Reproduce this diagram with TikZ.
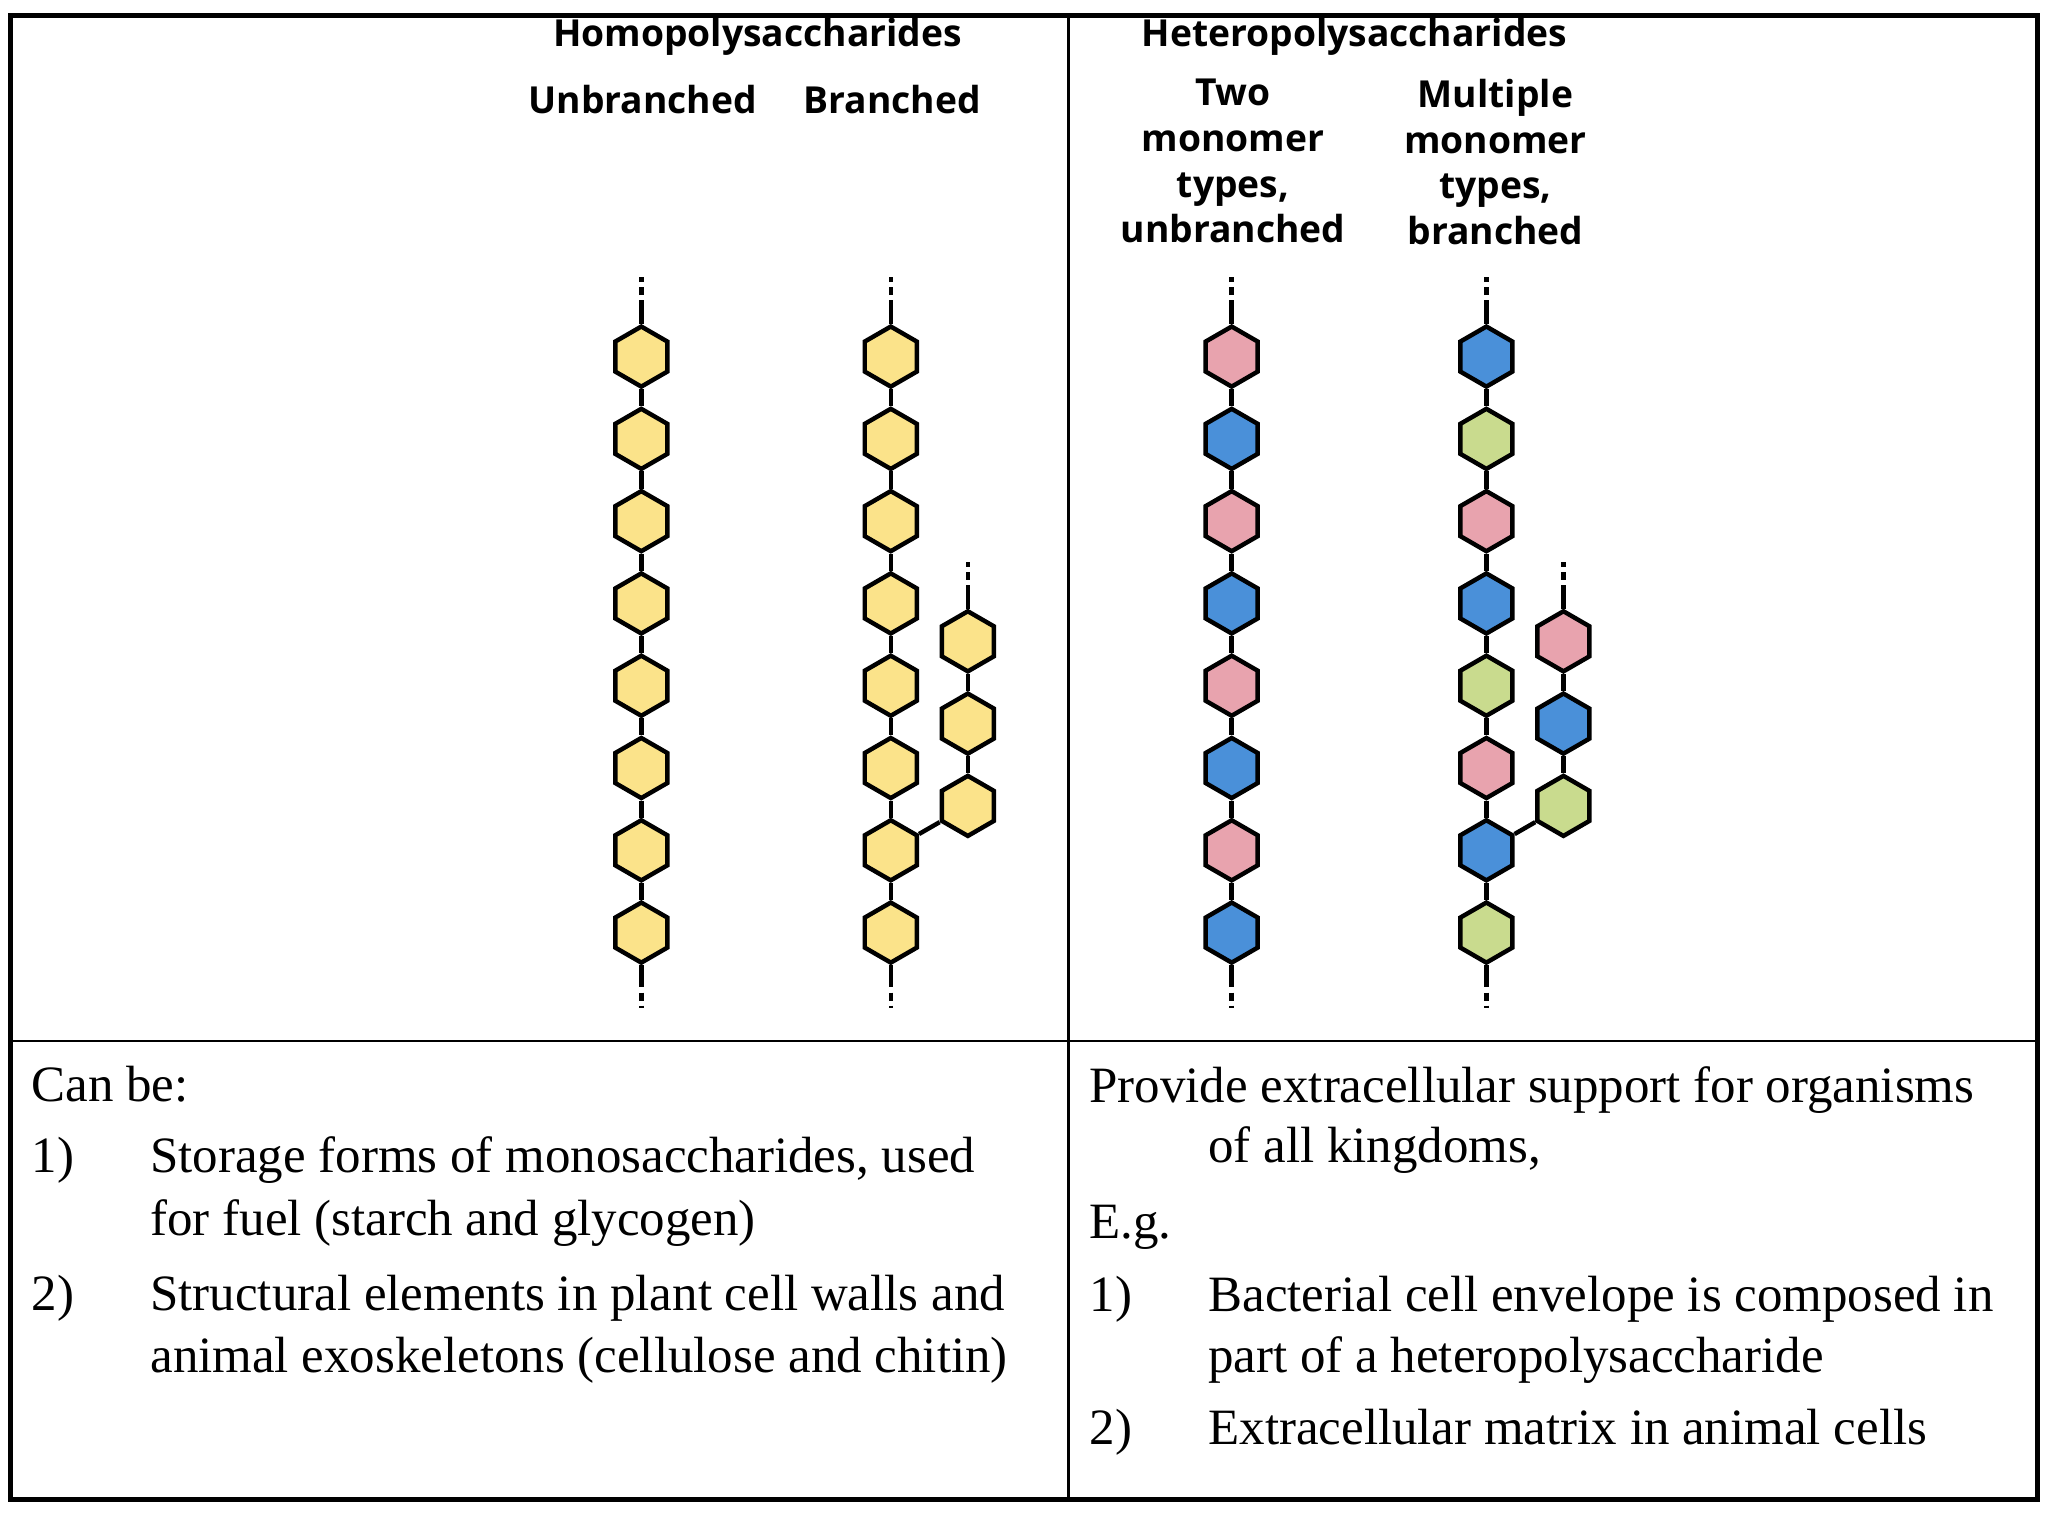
\documentclass[tikz,border=0pt]{standalone}
\usepackage{fontspec}
\setmainfont{Liberation Serif}
\newfontfamily\hfont{Open Sans}
\usetikzlibrary{shapes.geometric}
\definecolor{cY}{HTML}{FBE38A}
\definecolor{cP}{HTML}{E8A3AE}
\definecolor{cB}{HTML}{4A90D9}
\definecolor{cG}{HTML}{C9DB8E}
\tikzset{hex/.style={regular polygon,regular polygon sides=6,shape border rotate=30,draw=black,line width=3.4pt,minimum size=46pt,inner sep=0pt},
link/.style={line width=3.4pt},
stub/.style={line width=3.4pt,dash pattern=on 6pt off 4pt},
hd/.style={font=\hfont\bfseries\fontsize{28.5}{35}\selectfont,align=center},
bt/.style={font=\fontsize{39}{47}\selectfont,anchor=base west,inner sep=0pt}}
\begin{document}
\begin{tikzpicture}[x=1pt,y=-1pt]
\useasboundingbox (0,0) rectangle (1568,1176);
\draw[line width=3.5pt] (8,12) rectangle (1560,1148);
\draw[line width=2pt] (818,12) -- (818,1148) (8,797) -- (1560,797);
% headings
\node[hd] (h1) at (580,28) {Homopolysaccharides};
\node[hd] (h2) at (1037,28) {Heteropolysaccharides};
\node[hd] (u1) at (492,76) {Unbranched};
\node[hd] (b1) at (683,76) {Branched};
\node[hd,anchor=north] (t1) at (944,57) {Two\\monomer\\types,\\unbranched};
\node[hd,anchor=north] (t2) at (1145,57) {Multiple\\monomer\\types,\\branched};
% chains
\newcommand\chain[3]{% name x colors
  \foreach \c [count=\i] in {#3} {\node[hex,fill=\c] (#1\i) at (#2,{273+63*(\i-1)}) {};}
  \foreach \i [evaluate=\i as \j using int(\i+1)] in {1,...,7} {\draw[link] (#1\i) -- (#1\j);}
  \coordinate (#1t) at (#2,212); \coordinate (#1b) at (#2,772);
  \coordinate (#1ta) at (#2,236); \coordinate (#1ba) at (#2,750);
  \draw[link] (#11.north) -- (#1ta); \draw[stub] (#1ta) -- (#1t);
  \draw[link] (#18.south) -- (#1ba); \draw[stub] (#1ba) -- (#1b);}
\newcommand\branch[5]{% name x c1 c2 c3
  \node[hex,fill=#3] (#11) at (#2,491) {};
  \node[hex,fill=#4] (#12) at (#2,554) {};
  \node[hex,fill=#5] (#13) at (#2,617) {};
  \draw[link] (#11) -- (#12) (#12) -- (#13);
  \coordinate (#1t) at (#2,430); \coordinate (#1ta) at (#2,454);
  \draw[link] (#11.north) -- (#1ta); \draw[stub] (#1ta) -- (#1t);}
\chain{A}{491}{cY,cY,cY,cY,cY,cY,cY,cY}
\chain{B}{682}{cY,cY,cY,cY,cY,cY,cY,cY}
\branch{Bb}{741}{cY}{cY}{cY}
\draw[link] (B7) -- (Bb3);
\chain{C}{943}{cP,cB,cP,cB,cP,cB,cP,cB}
\chain{D}{1138}{cB,cG,cP,cB,cG,cP,cB,cG}
\branch{Db}{1197}{cP}{cB}{cG}
\draw[link] (D7) -- (Db3);
% bottom text
\node[bt] (l0) at (24,843) {Can be:};
\node[bt] (l1) at (24,898) {1)};
\node[bt] (l1a) at (115,898) {Storage forms of monosaccharides, used};
\node[bt] (l1b) at (115,946) {for fuel (starch and glycogen)};
\node[bt] (l2) at (24,1003) {2)};
\node[bt] (l2a) at (115,1003) {Structural elements in plant cell walls and};
\node[bt] (l2b) at (115,1051) {animal exoskeletons (cellulose and chitin)};
\node[bt] (r0) at (834,844) {Provide extracellular support for organisms};
\node[bt] (r0b) at (925,890) {of all kingdoms,};
\node[bt] (r1) at (834,948) {E.g.};
\node[bt] (r2) at (834,1004) {1)};
\node[bt] (r2a) at (925,1004) {Bacterial cell envelope is composed in};
\node[bt] (r2b) at (925,1051) {part of a heteropolysaccharide};
\node[bt] (r3) at (834,1106) {2)};
\node[bt] (r3a) at (925,1106) {Extracellular matrix in animal cells};
\end{tikzpicture}
\end{document}
